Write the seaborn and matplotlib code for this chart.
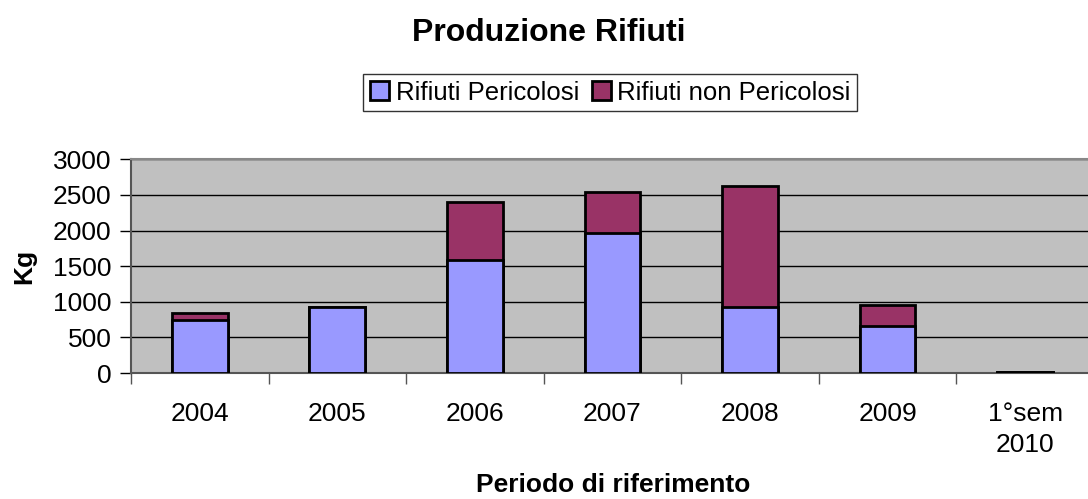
import matplotlib
matplotlib.use("Agg")
import matplotlib.pyplot as plt
import seaborn as sns
import pandas as pd
from matplotlib.patches import Patch
from matplotlib.ticker import FixedLocator

# ----------------------------------------
# Data (kg)
# ----------------------------------------
periods = ["2004", "2005", "2006", "2007", "2008", "2009", "1°sem\n2010"]
pericolosi = [750, 925, 1580, 1960, 925, 655, 10]
non_pericolosi = [90, 0, 820, 585, 1705, 300, 0]

BLUE = "#9999FF"
PURPLE = "#993366"

df = pd.DataFrame({"periodo": periods, "pericolosi": pericolosi, "non_pericolosi": non_pericolosi})
df["totale"] = df["pericolosi"] + df["non_pericolosi"]

# ----------------------------------------
# Plot
# ----------------------------------------
sns.set_style("white")
plt.rcParams["font.family"] = ["Liberation Sans", "DejaVu Sans"]
plt.rcParams["text.color"] = "black"
plt.rcParams["xtick.color"] = "black"
plt.rcParams["ytick.color"] = "black"
plt.rcParams["axes.labelcolor"] = "black"

fig = plt.figure(figsize=(10.88, 4.99), dpi=100)
ax = fig.add_axes([0.1204, 0.2525, 0.885, 0.4283])
ax.set_facecolor("#C0C0C0")

# stacked bars: total first (purple), then the lower part (blue) on top
sns.barplot(data=df, x="periodo", y="totale", color=PURPLE, saturation=1, width=0.405,
            edgecolor="black", linewidth=2, ax=ax, zorder=3)
sns.barplot(data=df, x="periodo", y="pericolosi", color=BLUE, saturation=1, width=0.405,
            edgecolor="black", linewidth=2, ax=ax, zorder=4)

ax.set_xlim(-0.5, len(periods) - 0.5)
ax.set_ylim(0, 3000)
ax.set_yticks(range(0, 3001, 500))
ax.yaxis.grid(True, color="black", linewidth=1)
ax.set_axisbelow(True)

ax.tick_params(axis="x", which="major", length=0, pad=21, labelsize=19)
for lbl in ax.get_xticklabels():
    lbl.set_linespacing(1.35)
ax.xaxis.set_minor_locator(FixedLocator([i - 0.5 for i in range(len(periods) + 1)]))
ax.tick_params(axis="x", which="minor", length=8, width=1, color="#555555", direction="out", bottom=True)
ax.tick_params(axis="y", length=8, width=1, color="black", direction="out", left=True, labelsize=19, pad=6)

for side in ["left", "bottom"]:
    ax.spines[side].set_color("#555555")
    ax.spines[side].set_linewidth(1.5)
ax.spines["top"].set_color("#888888")
ax.spines["top"].set_linewidth(1.5)
ax.spines["right"].set_visible(False)

ax.set_xlabel("")
ax.set_ylabel("Kg", fontsize=19, fontweight="bold", labelpad=12)
fig.text(0.5635, 0.004, "Periodo di riferimento", ha="center", va="bottom", fontsize=19, fontweight="bold")
fig.text(0.504, 0.934, "Produzione Rifiuti", ha="center", va="center", fontsize=23, fontweight="bold")

handles = [Patch(facecolor=BLUE, edgecolor="black", linewidth=2, label="Rifiuti Pericolosi"),
           Patch(facecolor=PURPLE, edgecolor="black", linewidth=2, label="Rifiuti non Pericolosi")]
leg = fig.legend(handles=handles, loc="center", bbox_to_anchor=(0.561, 0.814), ncol=2, fontsize=18.5,
                 frameon=True, fancybox=False, edgecolor="black", handlelength=0.75, handleheight=0.75,
                 handletextpad=0.25, columnspacing=0.5, borderpad=0.25, borderaxespad=0)
leg.get_frame().set_linewidth(1)

fig.savefig("out.png", dpi=100)
